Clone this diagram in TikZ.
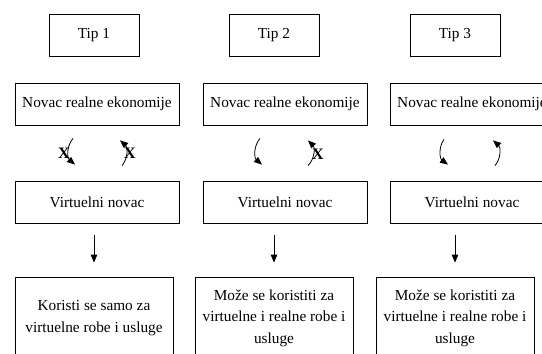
\documentclass[tikz,border=0pt]{standalone}
\usepackage{fontspec}
\setmainfont{Liberation Serif}
\usetikzlibrary{arrows.meta,calc}
\begin{document}
\begin{tikzpicture}[x=1pt,y=-1pt,
        box/.style={draw,line width=0.8pt,minimum height=42pt,inner sep=0pt,align=center,font=\fontsize{15.3}{21.5}\selectfont},
        arr/.style={line width=0.8pt,-{Triangle[length=8pt,width=6.5pt]}},
        cross/.style={inner sep=0pt,font=\fontsize{16}{18}\selectfont\bfseries}]
                \useasboundingbox (0,0) rectangle (542,354);
                \node[box,minimum width=90pt] (T1) at (94,35) {Tip 1};
                \node[box,minimum width=90pt] (T2) at (274,35) {Tip 2};
                \node[box,minimum width=90pt] (T3) at (455,35) {Tip 3};
                \node[box,minimum width=164pt] (N1) at (97,104) {Novac realne ekonomije};
                \node[box,minimum width=164pt] (N2) at (285,104) {Novac realne ekonomije};
                \node[box,minimum width=164pt] (N3) at (472,104) {Novac realne ekonomije};
                \node[box,minimum width=164pt] (V1) at (97,202) {Virtuelni novac};
                \node[box,minimum width=164pt] (V2) at (285,202) {Virtuelni novac};
                \node[box,minimum width=164pt] (V3) at (472,202) {Virtuelni novac};
                \node[box,minimum width=158pt,minimum height=82pt] (B1) at (94,318) {Koristi se samo za\\virtuelne robe i usluge};
                \node[box,minimum width=158pt,minimum height=82pt] (B2) at (274,318) {Može se koristiti za\\virtuelne i realne robe i\\usluge};
                \node[box,minimum width=158pt,minimum height=82pt] (B3) at (455,318) {Može se koristiti za\\virtuelne i realne robe i\\usluge};
                \draw[arr] ($(N1.south)+(-24,13)$) to[bend right=45] ($(V1.north)+(-22,-16)$);
                \draw[arr] ($(V1.north)+(25,-15)$) to[bend right=45] ($(N1.south)+(23,15)$);
                \draw[arr] ($(N2.south)+(-25,13)$) to[bend right=45] ($(V2.north)+(-23,-16)$);
                \draw[arr] ($(V2.north)+(23,-15)$) to[bend right=45] ($(N2.south)+(23,15)$);
                \draw[arr] ($(N3.south)+(-28,14)$) to[bend right=45] ($(V3.north)+(-24,-16)$);
                \draw[arr] ($(V3.north)+(23,-15)$) to[bend right=45] ($(N3.south)+(21,15)$);
                \node[cross] (X1) at ($(N1.south)!0.5!(V1.north)+(-33,0)$) {X};
                \node[cross] (X2) at ($(N1.south)!0.5!(V1.north)+(33,0)$) {X};
                \node[cross] (X3) at ($(N2.south)!0.5!(V2.north)+(33,1)$) {X};
                \draw[arr,shorten <=12pt,shorten >=14pt] (V1.south -| B1.north) -- (B1.north);
                \draw[arr,shorten <=12pt,shorten >=14pt] (V2.south -| B2.north) -- (B2.north);
                \draw[arr,shorten <=12pt,shorten >=14pt] (V3.south -| B3.north) -- (B3.north);
            \end{tikzpicture}
\end{document}
